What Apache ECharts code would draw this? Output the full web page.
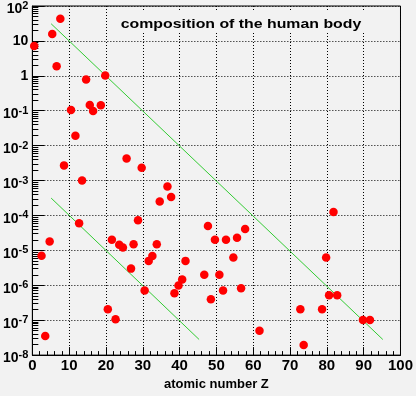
<!DOCTYPE html>
<html><head><meta charset="utf-8">
<script src="https://cdn.jsdelivr.net/npm/echarts@6/dist/echarts.min.js"></script>
<style>html,body{margin:0;padding:0;background:#f2f2f2}#c{width:416px;height:396px}</style>
</head><body><div id="c"></div>
<script>
// ---- data ----
const atomicZ = [0.5, 5.4, 7.6, 6.6, 10.5, 11.7, 8.6, 13.5, 14.6, 15.6, 16.5, 18.6, 19.8,
  25.6, 29.7, 36.7, 37.7, 34.6, 12.7, 28.7, 21.6, 23.6, 24.6, 27.5, 33.8, 4.7, 2.5, 32.6,
  31.6, 26.8, 41.6, 47.7, 46.7, 40.7, 39.7, 38.6, 30.5, 48.5, 20.5, 22.6, 3.5, 81.8, 57.8,
  49.6, 52.6, 55.6, 54.6, 79.8, 50.8, 51.8, 56.7, 80.6, 82.8, 72.8, 78.7, 89.8, 91.7, 61.7, 73.7];
const abundance = [7.2, 15.8, 43, 1.87, 0.105, 0.0193, 0.00272, 0.00100, 0.78, 0.146, 0.099, 0.143, 1.02,
  0.0043, 0.00234, 6.8e-4, 3.4e-4, 2.5e-4, 6.0e-5, 7.3e-5, 2.0e-5, 1.46e-5, 1.2e-5, 1.5e-5, 1.5e-5, 1.8e-5, 7.0e-6, 6.9e-6,
  5.0e-6, 3.0e-6, 5.0e-6, 5.0e-5, 2.0e-6, 1.46e-6, 9.8e-7, 5.9e-7, 7.1e-7, 4.0e-7, 2.05e-7, 1.07e-7, 3.5e-8, 1.26e-4, 4.1e-5,
  2.0e-5, 2.0e-5, 2.3e-5, 6.2e-6, 6.2e-6, 2.0e-6, 7.1e-7, 8.2e-7, 5.2e-7, 5.2e-7, 2.05e-7, 2.05e-7, 1.02e-7, 1.02e-7, 5.0e-8, 1.95e-8];
const upperLineX = [5.1, 95.2];
const upperLineY = [31, 2.8e-8];
const lowerLineX = [5.1, 45.3];
const lowerLineY = [3.15e-4, 2.8e-8];
const xTickLabels = ['0','10','20','30','40','50','60','70','80','90','100'];
const yTickValues = [1e-8,1e-7,1e-6,1e-5,1e-4,1e-3,1e-2,1e-1,1,10,100];
const yTickLabels = ['10^-8','10^-7','10^-6','10^-5','10^-4','10^-3','10^-2','10^-1','1','10','10^2'];
const titleText = 'composition of the human body';
const xAxisTitle = 'atomic number Z';

const yMinorTicks = [];
for (let k = -8; k < 2; k++) for (let m = 2; m <= 9; m++) yMinorTicks.push(+(m * Math.pow(10, k)).toPrecision(3));

const F = 'Liberation Sans';
const BG = '#f2f2f2';
const chart = echarts.init(document.getElementById('c'));
const gridPos = {left: 31, top: 6, width: 371, height: 352};

function yLabel(v) {
  let i = 0, best = 1e9;
  yTickValues.forEach((t, j) => { const d = Math.abs(Math.log10(t) - Math.log10(v)); if (d < best) { best = d; i = j; } });
  const s = yTickLabels[i];
  if (s.indexOf('^') < 0) return '{p|' + s + '}';
  const parts = s.split('^');
  return '{b|' + parts[0] + '}{e|' + parts[1] + '}';
}

chart.setOption({
  backgroundColor: BG,
  animation: false,
  grid: Object.assign({show: true, borderColor: '#000', borderWidth: 1, backgroundColor: 'transparent'}, gridPos),
  xAxis: {
    type: 'value', min: 0, max: 100, interval: 10,
    name: xAxisTitle, nameLocation: 'middle', nameGap: 22,
    nameTextStyle: {fontFamily: F, fontWeight: 'bold', fontSize: 13, color: '#000'},
    axisLine: {lineStyle: {color: '#000', width: 1}},
    axisTick: {inside: true, length: 8, lineStyle: {color: '#000'}},
    minorTick: {show: true, splitNumber: 5, length: 4, lineStyle: {color: '#000'}},
    axisLabel: {margin: 3, fontFamily: F, fontWeight: 'bold', fontSize: 15, color: '#000',
      formatter: (v) => xTickLabels[Math.round(v / 10)]},
    splitLine: {show: true, lineStyle: {color: '#000', type: [1, 2], width: 1}}
  },
  yAxis: [{
    type: 'log', logBase: 10, min: 1e-8, max: 100, interval: 1, splitNumber: 10,
    axisLine: {show: true, lineStyle: {color: '#000', width: 1}},
    axisTick: {inside: true, length: 12, lineStyle: {color: '#000'}, customValues: yTickValues},
    axisLabel: {margin: 4, customValues: yTickValues, formatter: yLabel,
      rich: {
        p: {fontFamily: F, fontWeight: 'bold', fontSize: 14, color: '#000'},
        b: {fontFamily: F, fontWeight: 'bold', fontSize: 14, color: '#000', padding: [7, 0, 0, 0]},
        e: {fontFamily: F, fontWeight: 'bold', fontSize: 11, color: '#000', verticalAlign: 'top', padding: [5, 0, 0, 0]}
      }},
    splitLine: {show: true, lineStyle: {color: '#000', type: [1, 2], width: 1}}
  }, {
    type: 'log', logBase: 10, min: 1e-8, max: 100, position: 'left', offset: 0,
    axisLine: {show: false},
    axisTick: {show: true, inside: true, length: 6, lineStyle: {color: '#000'}, customValues: yMinorTicks},
    axisLabel: {show: false},
    splitLine: {show: false}
  }],
  series: [
    {type: 'line', data: upperLineX.map((x, i) => [x, upperLineY[i]]), symbol: 'none',
      lineStyle: {color: '#33cc33', width: 1}, z: 3, silent: true},
    {type: 'line', data: lowerLineX.map((x, i) => [x, lowerLineY[i]]), symbol: 'none',
      lineStyle: {color: '#33cc33', width: 1}, z: 3, silent: true},
    {type: 'scatter', data: atomicZ.map((x, i) => [x, abundance[i]]), symbol: 'circle', symbolSize: 8.5,
      itemStyle: {color: '#ff0000', opacity: 1}, clip: false, z: 4}
  ],
  graphic: [
    {type: 'rect', z: 100, shape: {x: 110, y: 12, width: 262, height: 20}, style: {fill: BG}},
    {type: 'text', z: 101, x: 241, y: 24.5, scaleX: 1.22, scaleY: 1,
      style: {text: titleText, x: 0, y: 0, align: 'center', verticalAlign: 'middle',
        font: 'bold 13px "Liberation Sans"', fill: '#000'}}
  ]
});
</script></body></html>
